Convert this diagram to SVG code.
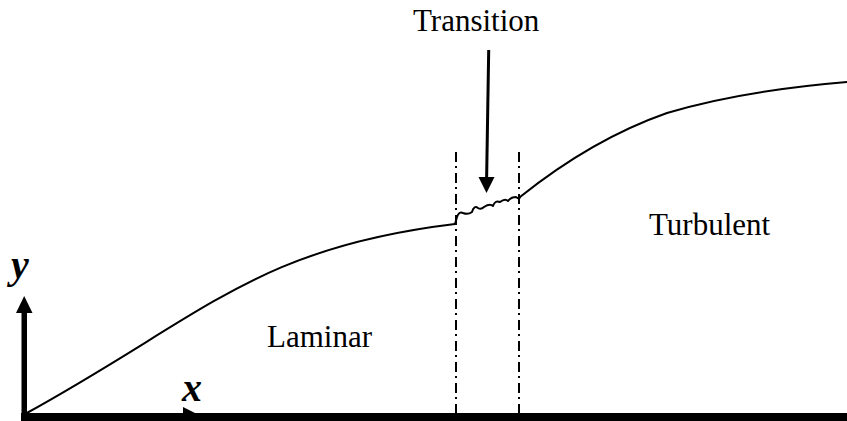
<svg xmlns="http://www.w3.org/2000/svg" width="847" height="421" viewBox="0 0 847 421">
<style>
.lbl{font-family:"Liberation Serif","Times New Roman",serif;font-size:31px;fill:#000}
.ax{font-family:"Liberation Serif","Times New Roman",serif;font-size:40px;font-weight:bold;font-style:italic;fill:#000}
.curve{fill:none;stroke:#000;stroke-width:2;stroke-linejoin:round;stroke-linecap:round}
.dd{fill:none;stroke:#000;stroke-width:2;stroke-dasharray:10 4 2 5}
</style>
<rect width="847" height="421" fill="#fff"/>
<g id="axes">
  <rect x="21" y="413" width="826" height="8" fill="#000"/>
  <polygon points="183,407 201,416 183,421" fill="#000"/>
  <rect x="21.5" y="310" width="5.5" height="108" fill="#000"/>
  <polygon points="24.2,296 32.5,313 16,313" fill="#000"/>
  <text class="ax" x="11" y="278">y</text>
  <text class="ax" x="182" y="401">x</text>
</g>
<g id="boundaries">
  <line class="dd" x1="456" y1="152" x2="456" y2="413"/>
  <line class="dd" x1="519" y1="152" x2="519" y2="413"/>
</g>
<g id="laminar">
  <path class="curve" d="M25,414 C205,315 255,248 455,224"/>
  <text class="lbl" x="267" y="347">Laminar</text>
</g>
<g id="transition">
  <path class="curve" d="M455,224 L457,217 Q459,211 463,213 Q468,215 472,212 Q474,205 478,208 Q481,210 484,207 Q490,203 493,206 Q495,200 500,202 Q505,198 508,201 Q511,197 516,197 L519,199 L520,197"/>
  <text class="lbl" x="413" y="31">Transition</text>
</g>
<g id="turbulent">
  <path class="curve" d="M520,197 C565,161 617,130.5 667,113 C727,95 787,87 847,82"/>
  <text class="lbl" x="649" y="235">Turbulent</text>
</g>
<g id="connectors">
  <line x1="488.7" y1="50" x2="486.6" y2="180" stroke="#000" stroke-width="3"/>
  <polygon points="478.5,177 494.5,177 486.5,193" fill="#000"/>
</g>
</svg>
